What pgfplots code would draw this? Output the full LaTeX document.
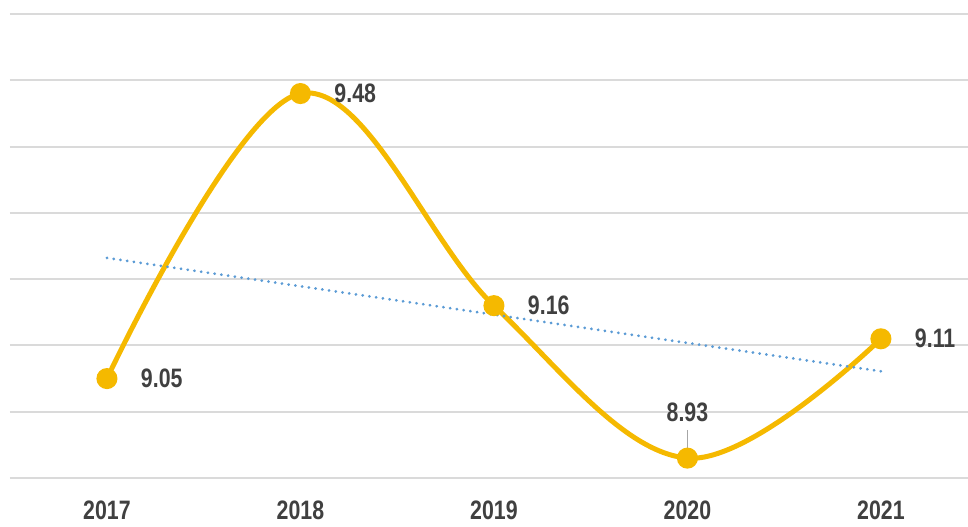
\documentclass[border=0pt]{standalone}
\usepackage{pgfplots}
\pgfplotsset{compat=1.18}
\usepackage{fontspec}
\setmainfont[FakeStretch=0.8]{Liberation Sans}
\definecolor{curvec}{HTML}{F5B900}
\definecolor{trendc}{HTML}{5B9BD5}
\definecolor{gridc}{HTML}{DADADA}
\definecolor{txtc}{HTML}{404040}
\begin{document}
\begin{tikzpicture}
\path[use as bounding box] (-7.5pt,-36.75pt) rectangle (718.5pt,358.5pt);
\begin{axis}[
  at={(0,0)}, anchor=south west,
  scale only axis, width=718.5pt, height=348pt,
  xmin=-0.501, xmax=4.45, ymin=8.9, ymax=9.6,
  axis line style={draw=none},
  ytick={8.9,9.0,9.1,9.2,9.3,9.4,9.5,9.6},
  yticklabels={},
  ymajorgrids=true, xmajorgrids=false,
  grid style={draw=gridc, line width=1.5pt},
  major tick length=0pt,
  xtick={0,1,2,3,4},
  xticklabels={2017,2018,2019,2020,2021},
  xticklabel style={font=\fontsize{20}{24}\selectfont\bfseries, text=txtc, yshift=-14pt},
  /pgf/number format/assume math mode=true,
  clip=false,
]
\addplot[curvec, line width=3.75pt, smooth, tension=0.6, mark=*, mark size=6pt, mark options={fill=curvec, draw=curvec}]
  coordinates {(0,9.05) (1,9.48) (2,9.16) (3,8.93) (4,9.11)};
\addplot[trendc, line width=2.2pt, dash pattern=on 0.1pt off 5pt, line cap=round]
  coordinates {(0,9.232) (4,9.061)};
\addplot[draw=none, mark=none, nodes near coords, point meta=explicit symbolic,
  nodes near coords style={anchor=west, xshift=22pt, font=\fontsize{20}{24}\selectfont\bfseries, text=txtc}]
  coordinates {(0,9.05) [9.05] (1,9.48) [9.48] (2,9.16) [9.16] (4,9.11) [9.11]};
\addplot[draw=none, mark=none, nodes near coords, point meta=explicit symbolic,
  nodes near coords style={anchor=south, yshift=24pt, font=\fontsize{20}{24}\selectfont\bfseries, text=txtc}]
  coordinates {(3,8.93) [8.93]};
\draw[gray!70, line width=0.8pt] ([yshift=3pt]axis cs:3,8.93) -- ([yshift=21pt]axis cs:3,8.93);
\end{axis}
\end{tikzpicture}
\end{document}
